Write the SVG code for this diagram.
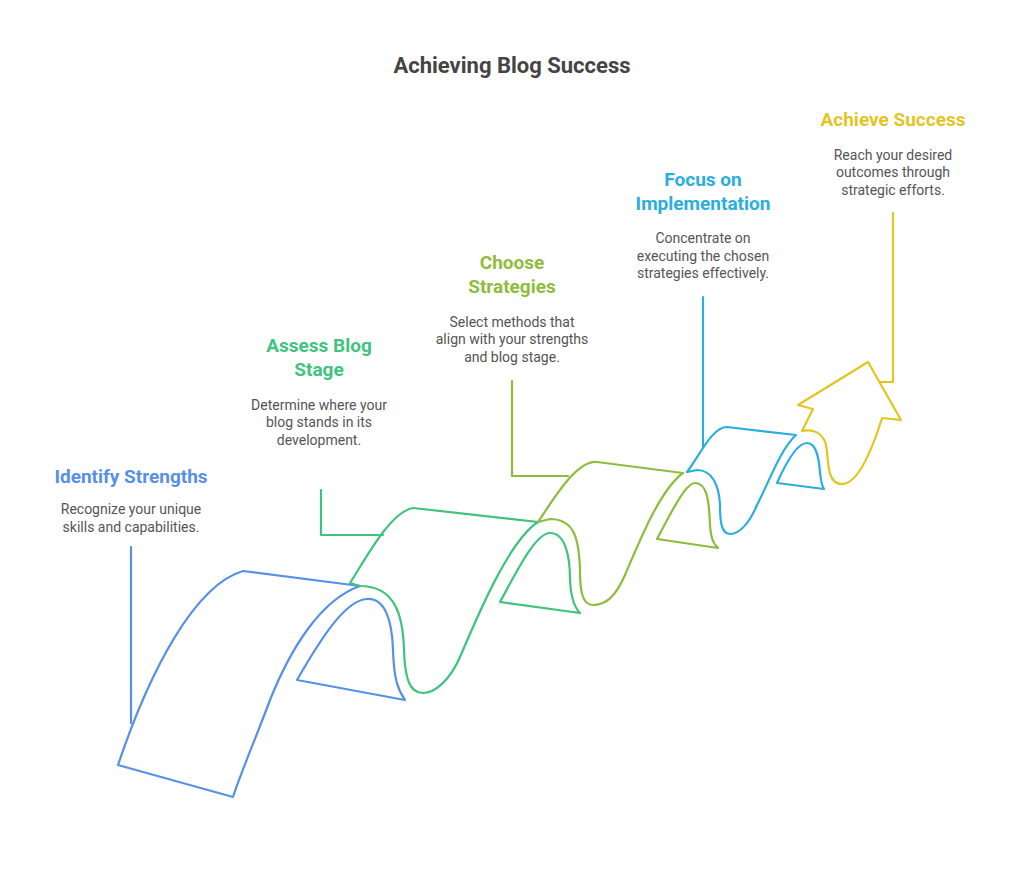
<svg xmlns="http://www.w3.org/2000/svg" width="1024" height="869" viewBox="0 0 1024 869">
<style>
.s{fill:none;stroke-width:2.2;stroke-linejoin:round;stroke-linecap:round}
.h{font-family:Roboto,"Liberation Sans",sans-serif;font-weight:bold;font-size:19px;text-anchor:middle}
.d{font-family:Roboto,"Liberation Sans",sans-serif;font-size:14px;fill:#555;text-anchor:middle}
.b{stroke:#5790e6}.g{stroke:#3ec47e}.y{stroke:#8dbd3b}.c{stroke:#2aaede}.o{stroke:#e3c51f}
</style>
<rect width="1024" height="869" fill="#fff"/>
<text x="512" y="73" font-family="Roboto,'Liberation Sans',sans-serif" font-weight="bold" font-size="22" fill="#444" text-anchor="middle">Achieving Blog Success</text>
<g id="connectors">
<path class="s b" d="M131,547 V723"/>
<path class="s g" d="M321,490 V535 H383"/>
<path class="s y" d="M512,381 V476 H568"/>
<path class="s c" d="M703,297 V447"/>
<path class="s o" d="M893,213 V382 H880"/>
</g>
<g id="n1">
<path class="s b" d="M118,765 C150,670 195,585 243,571 L360,586 C320,600 290,650 270,700 C255,740 240,775 233,797 Z"/>
<path class="s b" d="M297,680 C320,640 345,600 367,599 C385,598 392,620 393,650 C394,680 398,690 405,700 Z"/>
<text class="h" x="131" y="483" fill="#5790e6">Identify Strengths</text>
<text class="d" x="131" y="514">Recognize your unique</text>
<text class="d" x="131" y="532">skills and capabilities.</text>
</g>
<g id="n2">
<path class="s g" d="M350,583 C365,560 390,512 413,508 L538,522 C510,540 480,610 460,657 C450,680 435,693 423,693 C410,693 405,680 404,650 C403,615 395,586 360,586 Z"/>
<path class="s g" d="M500,602 C515,575 535,533 550,533 C565,533 570,555 570,580 C571,600 575,608 580,613 Z"/>
<text class="h" x="319" y="352" fill="#3ec47e">Assess Blog</text>
<text class="h" x="319" y="376" fill="#3ec47e">Stage</text>
<text class="d" x="319" y="410">Determine where your</text>
<text class="d" x="319" y="427">blog stands in its</text>
<text class="d" x="319" y="445">development.</text>
</g>
<g id="n3">
<path class="s y" d="M538,522 C550,505 575,460 597,462 L683,473 C660,490 640,540 625,575 C615,598 605,605 593,605 C582,605 580,590 580,570 C579,540 575,519 550,519 Z"/>
<path class="s y" d="M657,539 C670,515 685,483 695,483 C707,483 709,500 710,525 C711,540 714,544 718,548 Z"/>
<text class="h" x="512" y="269" fill="#8dbd3b">Choose</text>
<text class="h" x="512" y="293" fill="#8dbd3b">Strategies</text>
<text class="d" x="512" y="327">Select methods that</text>
<text class="d" x="512" y="344">align with your strengths</text>
<text class="d" x="512" y="362">and blog stage.</text>
</g>
<g id="n4">
<path class="s c" d="M687,472 C700,455 712,427 727,427 L796,435 C780,450 770,480 757,505 C750,522 740,534 730,534 C721,534 720,520 720,505 C719,485 712,470 697,470 Z"/>
<path class="s c" d="M777,483 C785,465 797,443 807,443 C817,443 819,460 820,472 C821,483 822,486 824,489 Z"/>
<text class="h" x="703" y="186" fill="#2aaede">Focus on</text>
<text class="h" x="703" y="210" fill="#2aaede">Implementation</text>
<text class="d" x="703" y="243">Concentrate on</text>
<text class="d" x="703" y="261">executing the chosen</text>
<text class="d" x="703" y="278">strategies effectively.</text>
</g>
<g id="n5">
<path class="s o" d="M802,431 C806,430 822,428 826,445 C829,460 826,484 842,484 C858,484 872,450 882,418 L901,420 L868,362 L798,405 L813,409 Z"/>
<text class="h" x="893" y="126" fill="#e3c51f">Achieve Success</text>
<text class="d" x="893" y="160">Reach your desired</text>
<text class="d" x="893" y="177">outcomes through</text>
<text class="d" x="893" y="195">strategic efforts.</text>
</g>
</svg>
